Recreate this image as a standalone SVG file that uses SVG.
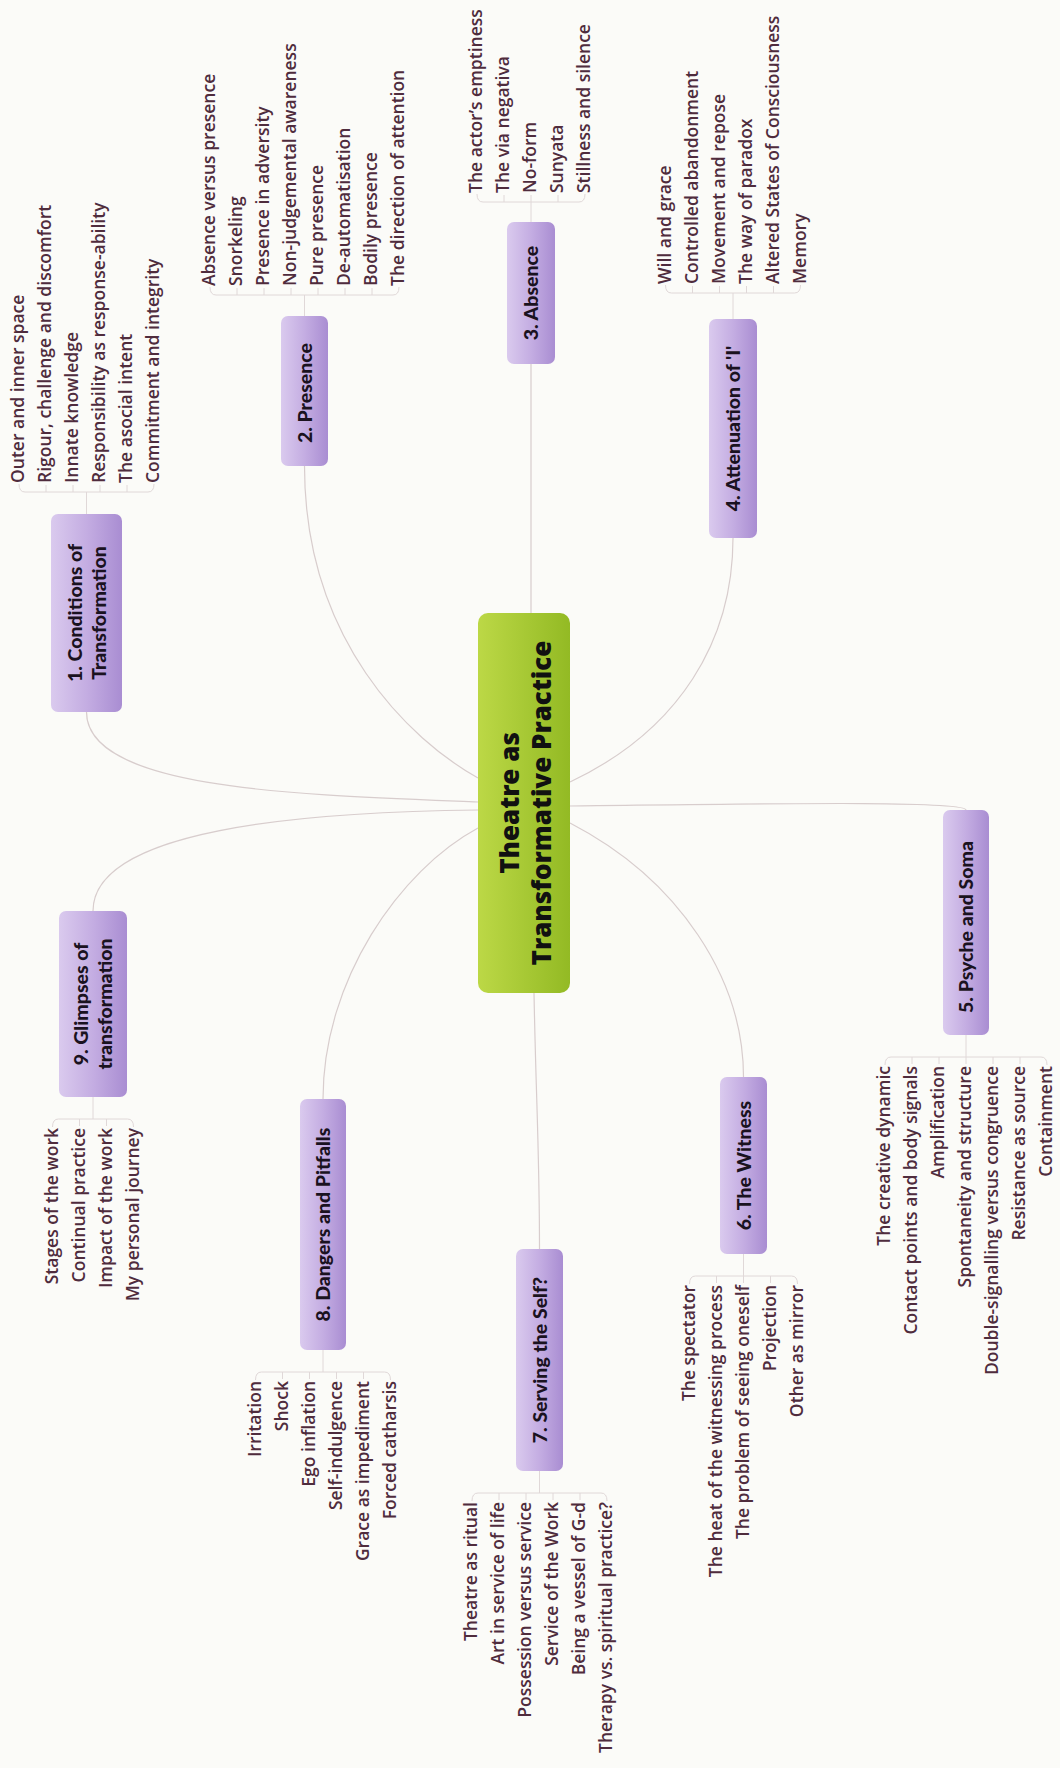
<svg xmlns="http://www.w3.org/2000/svg" width="1060" height="1768" viewBox="0 0 1060 1768">
<defs>
<linearGradient id="gp" x1="0" y1="0" x2="1" y2="0">
<stop offset="0" stop-color="#dacaee"/><stop offset="0.5" stop-color="#c4ade2"/><stop offset="1" stop-color="#a98dd2"/>
</linearGradient>
<linearGradient id="gg" x1="0" y1="0" x2="1" y2="0">
<stop offset="0" stop-color="#bcd846"/><stop offset="1" stop-color="#93ba24"/>
</linearGradient>
<style>
.bg{fill:#fbfbf8}
.nd{fill:url(#gp)}
.ct{fill:url(#gg)}
.con{fill:none;stroke:#d8cdcd;stroke-width:1.2}
.bus{fill:none;stroke:#e0d8d8;stroke-width:1}
.leaf{font-family:"Open Sans","DejaVu Sans",sans-serif;font-size:17.5px;font-weight:600;fill:#4f2c3d}
.s{text-anchor:start}
.e{text-anchor:end}
.lbl{font-family:Lato,"Open Sans",sans-serif;font-weight:900;font-size:19.5px;fill:#1a1220;text-anchor:middle}
.title{font-family:"Open Sans",sans-serif;font-weight:800;font-size:26px;fill:#111;text-anchor:middle}
</style>
</defs>
<rect class="bg" x="0" y="0" width="1060" height="1768"/>

<g id="connectors">
<path class="con" d="M86.5 712 C86.5 790 300 795 478 802"/>
<path class="con" d="M93 911 C93 830 300 812 478 810"/>
<path class="con" d="M304.5 466 C304.5 640 410 740 478 778"/>
<path class="con" d="M478 828 C400 870 323 980 323 1099"/>
<path class="con" d="M531 613 L531 364"/>
<path class="con" d="M534 993 C536 1100 539.5 1150 539.5 1249"/>
<path class="con" d="M570 782 C680 730 733 640 733 538"/>
<path class="con" d="M570 823 C680 880 743.5 980 743.5 1077"/>
<path class="con" d="M570 806 C750 804 966 800 966 810"/>
<path class="bus" d="M19 484 Q19 492 25 492 L148 492 Q154 492 154 484 M46 492 V485 M73 492 V485 M100 492 V485 M127 492 V485 M86.5 492 V514"/>
<path class="bus" d="M210 287 Q210 295 216 295 L393 295 Q399 295 399 287 M237 295V288 M264 295V288 M291 295V288 M318 295V288 M345 295V288 M372 295V288 M304.5 295V316"/>
<path class="bus" d="M477 194 Q477 202 483 202 L579 202 Q585 202 585 194 M504 202V195 M531 202V195 M558 202V195 M531 202V222"/>
<path class="bus" d="M665.5 285 Q665.5 293 671.5 293 L794.5 293 Q800.5 293 800.5 285 M692.5 293V286 M719.5 293V286 M746.5 293V286 M773.5 293V286 M733 293V319"/>
<path class="bus" d="M885 1065 Q885 1057 891 1057 L1041 1057 Q1047 1057 1047 1065 M912 1057V1064 M939 1057V1064 M966 1057V1064 M993 1057V1064 M1020 1057V1064 M966 1035V1057"/>
<path class="bus" d="M689.5 1284 Q689.5 1276 695.5 1276 L791.5 1276 Q797.5 1276 797.5 1284 M716.5 1276V1283 M743.5 1276V1283 M770.5 1276V1283 M743.5 1254V1276"/>
<path class="bus" d="M472 1501 Q472 1493 478 1493 L601 1493 Q607 1493 607 1501 M499 1493V1500 M526 1493V1500 M553 1493V1500 M580 1493V1500 M539.5 1471V1493"/>
<path class="bus" d="M255.5 1380 Q255.5 1372 261.5 1372 L384.5 1372 Q390.5 1372 390.5 1380 M282.5 1372V1379 M309.5 1372V1379 M336.5 1372V1379 M363.5 1372V1379 M323 1350V1372"/>
<path class="bus" d="M52.5 1127 Q52.5 1119 58.5 1119 L127.5 1119 Q133.5 1119 133.5 1127 M79.5 1119V1126 M106.5 1119V1126 M93 1097V1119"/>
</g>

<g id="center">
<rect class="ct" x="478" y="613" width="92" height="380" rx="10"/>
<text class="title" transform="rotate(-90 519 803)" x="519" y="803">Theatre as</text>
<text class="title" transform="rotate(-90 551 803)" x="551" y="803">Transformative Practice</text>
</g>

<g id="node1">
<rect class="nd" x="51" y="514" width="71" height="198" rx="7"/>
<text class="lbl" transform="rotate(-90 82 613)" x="82" y="613">1. Conditions of</text>
<text class="lbl" transform="rotate(-90 106 613)" x="106" y="613">Transformation</text>
<g class="leaf s">
<text transform="rotate(-90 24 483)" x="24" y="483">Outer and inner space</text>
<text transform="rotate(-90 51 483)" x="51" y="483">Rigour, challenge and discomfort</text>
<text transform="rotate(-90 78 483)" x="78" y="483">Innate knowledge</text>
<text transform="rotate(-90 105 483)" x="105" y="483">Responsibility as response-ability</text>
<text transform="rotate(-90 132 483)" x="132" y="483">The asocial intent</text>
<text transform="rotate(-90 159 483)" x="159" y="483">Commitment and integrity</text>
</g>
</g>

<g id="node2">
<rect class="nd" x="281" y="316" width="47" height="150" rx="7"/>
<text class="lbl" transform="rotate(-90 311.5 393)" x="311.5" y="393">2. Presence</text>
<g class="leaf s">
<text transform="rotate(-90 215 286)" x="215" y="286">Absence versus presence</text>
<text transform="rotate(-90 242 286)" x="242" y="286">Snorkeling</text>
<text transform="rotate(-90 269 286)" x="269" y="286">Presence in adversity</text>
<text transform="rotate(-90 296 286)" x="296" y="286">Non-judgemental awareness</text>
<text transform="rotate(-90 323 286)" x="323" y="286">Pure presence</text>
<text transform="rotate(-90 350 286)" x="350" y="286">De-automatisation</text>
<text transform="rotate(-90 377 286)" x="377" y="286">Bodily presence</text>
<text transform="rotate(-90 404 286)" x="404" y="286">The direction of attention</text>
</g>
</g>

<g id="node3">
<rect class="nd" x="507" y="222" width="48" height="142" rx="7"/>
<text class="lbl" transform="rotate(-90 538 293)" x="538" y="293">3. Absence</text>
<g class="leaf s">
<text transform="rotate(-90 482 193)" x="482" y="193">The actor’s emptiness</text>
<text transform="rotate(-90 509 193)" x="509" y="193">The via negativa</text>
<text transform="rotate(-90 536 193)" x="536" y="193">No-form</text>
<text transform="rotate(-90 563 193)" x="563" y="193">Sunyata</text>
<text transform="rotate(-90 590 193)" x="590" y="193">Stillness and silence</text>
</g>
</g>

<g id="node4">
<rect class="nd" x="709" y="319" width="48" height="219" rx="7"/>
<text class="lbl" transform="rotate(-90 740 428.5)" x="740" y="428.5">4. Attenuation of 'I'</text>
<g class="leaf s">
<text transform="rotate(-90 670.5 284)" x="670.5" y="284">Will and grace</text>
<text transform="rotate(-90 697.5 284)" x="697.5" y="284">Controlled abandonment</text>
<text transform="rotate(-90 724.5 284)" x="724.5" y="284">Movement and repose</text>
<text transform="rotate(-90 751.5 284)" x="751.5" y="284">The way of paradox</text>
<text transform="rotate(-90 778.5 284)" x="778.5" y="284">Altered States of Consciousness</text>
<text transform="rotate(-90 805.5 284)" x="805.5" y="284">Memory</text>
</g>
</g>

<g id="node5">
<rect class="nd" x="943" y="810" width="46" height="225" rx="7"/>
<text class="lbl" transform="rotate(-90 973 927)" x="973" y="927">5. Psyche and Soma</text>
<g class="leaf e">
<text transform="rotate(-90 890 1066)" x="890" y="1066">The creative dynamic</text>
<text transform="rotate(-90 917 1066)" x="917" y="1066">Contact points and body signals</text>
<text transform="rotate(-90 944 1066)" x="944" y="1066">Amplification</text>
<text transform="rotate(-90 971 1066)" x="971" y="1066">Spontaneity and structure</text>
<text transform="rotate(-90 998 1066)" x="998" y="1066">Double-signalling versus congruence</text>
<text transform="rotate(-90 1025 1066)" x="1025" y="1066">Resistance as source</text>
<text transform="rotate(-90 1052 1066)" x="1052" y="1066">Containment</text>
</g>
</g>

<g id="node6">
<rect class="nd" x="720" y="1077" width="47" height="177" rx="7"/>
<text class="lbl" transform="rotate(-90 750.5 1165.5)" x="750.5" y="1165.5">6. The Witness</text>
<g class="leaf e">
<text transform="rotate(-90 694.5 1285)" x="694.5" y="1285">The spectator</text>
<text transform="rotate(-90 721.5 1285)" x="721.5" y="1285">The heat of the witnessing process</text>
<text transform="rotate(-90 748.5 1285)" x="748.5" y="1285">The problem of seeing oneself</text>
<text transform="rotate(-90 775.5 1285)" x="775.5" y="1285">Projection</text>
<text transform="rotate(-90 802.5 1285)" x="802.5" y="1285">Other as mirror</text>
</g>
</g>

<g id="node7">
<rect class="nd" x="516" y="1249" width="47" height="222" rx="7"/>
<text class="lbl" transform="rotate(-90 546.5 1360)" x="546.5" y="1360">7. Serving the Self?</text>
<g class="leaf e">
<text transform="rotate(-90 477 1502)" x="477" y="1502">Theatre as ritual</text>
<text transform="rotate(-90 504 1502)" x="504" y="1502">Art in service of life</text>
<text transform="rotate(-90 531 1502)" x="531" y="1502">Possession versus service</text>
<text transform="rotate(-90 558 1502)" x="558" y="1502">Service of the Work</text>
<text transform="rotate(-90 585 1502)" x="585" y="1502">Being a vessel of G-d</text>
<text transform="rotate(-90 612 1502)" x="612" y="1502">Therapy vs. spiritual practice?</text>
</g>
</g>

<g id="node8">
<rect class="nd" x="300" y="1099" width="46" height="251" rx="7"/>
<text class="lbl" transform="rotate(-90 330 1224.5)" x="330" y="1224.5">8. Dangers and Pitfalls</text>
<g class="leaf e">
<text transform="rotate(-90 260.5 1381)" x="260.5" y="1381">Irritation</text>
<text transform="rotate(-90 287.5 1381)" x="287.5" y="1381">Shock</text>
<text transform="rotate(-90 314.5 1381)" x="314.5" y="1381">Ego inflation</text>
<text transform="rotate(-90 341.5 1381)" x="341.5" y="1381">Self-indulgence</text>
<text transform="rotate(-90 368.5 1381)" x="368.5" y="1381">Grace as impediment</text>
<text transform="rotate(-90 395.5 1381)" x="395.5" y="1381">Forced catharsis</text>
</g>
</g>

<g id="node9">
<rect class="nd" x="59" y="911" width="68" height="186" rx="7"/>
<text class="lbl" transform="rotate(-90 88 1004)" x="88" y="1004">9. Glimpses of</text>
<text class="lbl" transform="rotate(-90 112 1004)" x="112" y="1004">transformation</text>
<g class="leaf e">
<text transform="rotate(-90 57.5 1128)" x="57.5" y="1128">Stages of the work</text>
<text transform="rotate(-90 84.5 1128)" x="84.5" y="1128">Continual practice</text>
<text transform="rotate(-90 111.5 1128)" x="111.5" y="1128">Impact of the work</text>
<text transform="rotate(-90 138.5 1128)" x="138.5" y="1128">My personal journey</text>
</g>
</g>
</svg>
